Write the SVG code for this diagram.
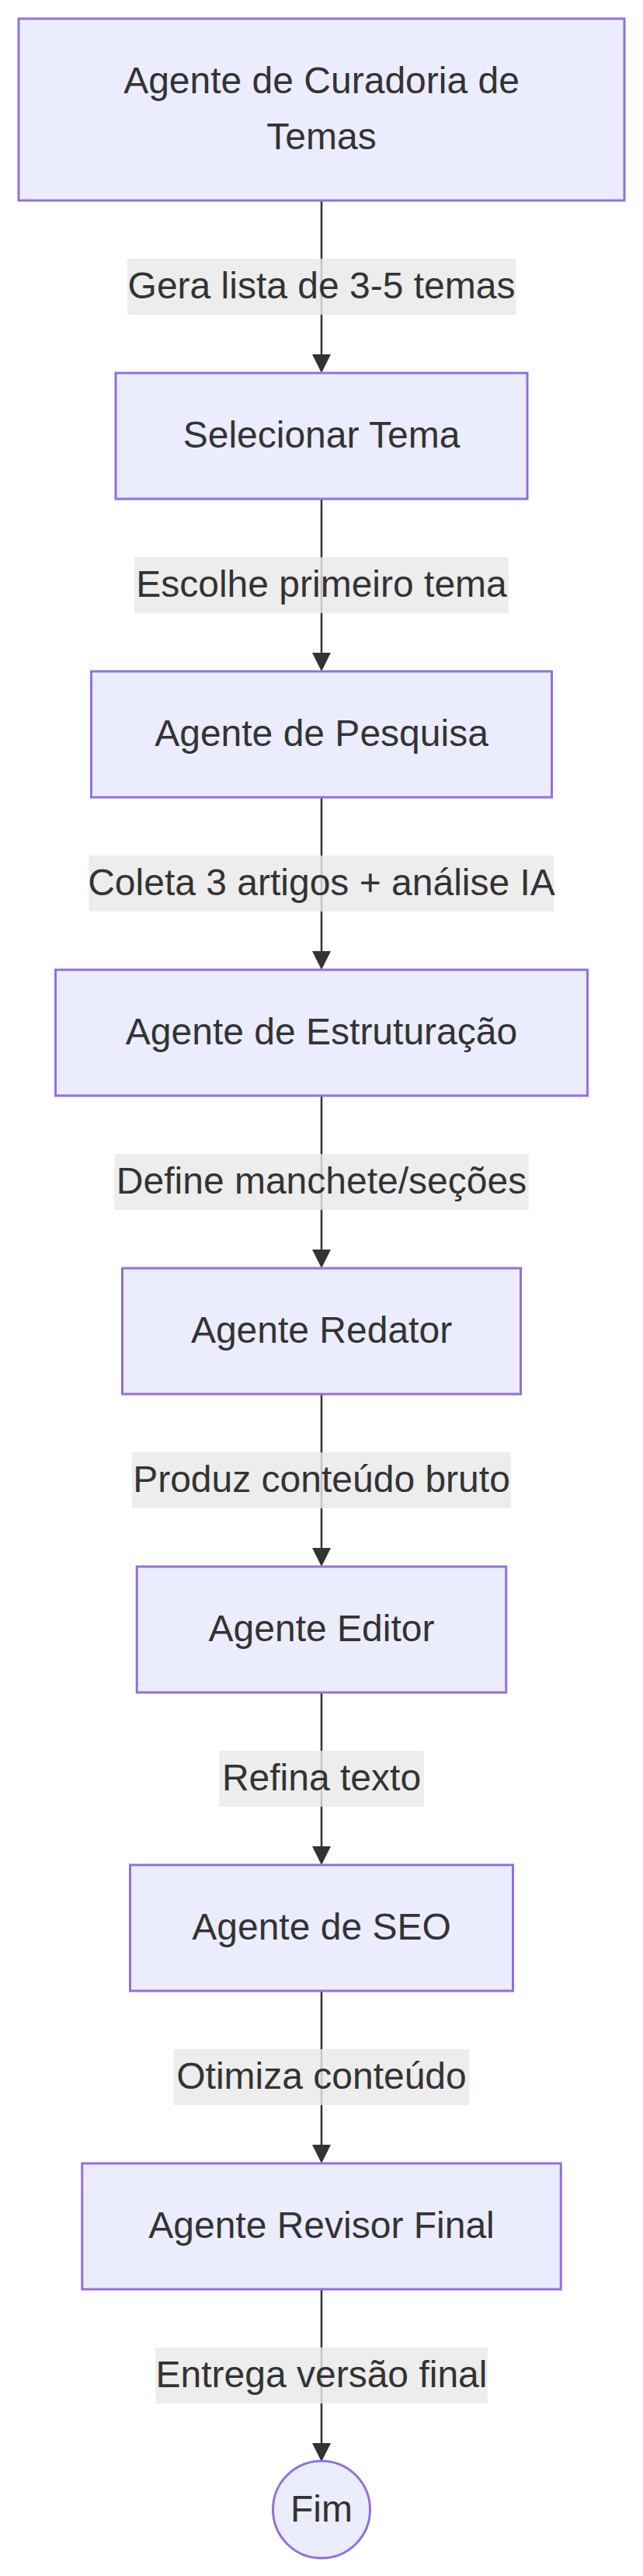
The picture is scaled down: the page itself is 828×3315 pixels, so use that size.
<svg xmlns="http://www.w3.org/2000/svg" width="828" height="3315" viewBox="0 0 828 3315">
<style>
.node rect, .node circle { fill: #ECECFF; stroke: #9370DB; stroke-width: 3; }
.node text { font-family: "Liberation Sans", Arial, sans-serif; font-size: 48px; fill: #333333; text-anchor: middle; }
.edge line { stroke: #333333; stroke-width: 2.5; fill: none; }
.elabel rect { fill: rgba(232,232,232,0.8); stroke: none; }
.elabel text { font-family: "Liberation Sans", Arial, sans-serif; font-size: 48px; fill: #333333; text-anchor: middle; }
</style>
<defs>
<marker id="arrow" viewBox="0 0 10 10" refX="5" refY="5" markerUnits="userSpaceOnUse" markerWidth="24" markerHeight="24" orient="auto">
<path d="M 0 0 L 10 5 L 0 10 z" fill="#333333"/>
</marker>
</defs>
<rect width="828" height="3315" fill="#ffffff"/>
<g id="connectors">
<g class="edge">
<line x1="414" y1="258" x2="414" y2="468" marker-end="url(#arrow)"/>
<line x1="414" y1="642" x2="414" y2="852" marker-end="url(#arrow)"/>
<line x1="414" y1="1026" x2="414" y2="1236" marker-end="url(#arrow)"/>
<line x1="414" y1="1410" x2="414" y2="1620" marker-end="url(#arrow)"/>
<line x1="414" y1="1794" x2="414" y2="2004" marker-end="url(#arrow)"/>
<line x1="414" y1="2178" x2="414" y2="2388" marker-end="url(#arrow)"/>
<line x1="414" y1="2562" x2="414" y2="2772" marker-end="url(#arrow)"/>
<line x1="414" y1="2946" x2="414" y2="3156" marker-end="url(#arrow)"/>
</g>
<g class="elabel">
<rect x="163.75" y="333" width="500.5" height="72"/>
<text x="414" y="384">Gera lista de 3-5 temas</text>
<rect x="173.2" y="717" width="481.6" height="72"/>
<text x="414" y="768">Escolhe primeiro tema</text>
<rect x="114.5" y="1101" width="599" height="72"/>
<text x="414" y="1152">Coleta 3 artigos + análise IA</text>
<rect x="147.3" y="1485" width="533.4" height="72"/>
<text x="414" y="1536">Define manchete/seções</text>
<rect x="169.9" y="1869" width="488.2" height="72"/>
<text x="414" y="1920">Produz conteúdo bruto</text>
<rect x="282.15" y="2253" width="263.7" height="72"/>
<text x="414" y="2304">Refina texto</text>
<rect x="223.5" y="2637" width="381" height="72"/>
<text x="414" y="2688">Otimiza conteúdo</text>
<rect x="200.2" y="3021" width="427.6" height="72"/>
<text x="414" y="3072">Entrega versão final</text>
</g>
</g>
<g id="curadoria" class="node">
<rect x="24" y="24" width="780" height="234"/>
<text x="414" y="120">Agente de Curadoria de</text>
<text x="414" y="192">Temas</text>
</g>
<g id="selecionar" class="node">
<rect x="149" y="480" width="530" height="162"/>
<text x="414" y="576">Selecionar Tema</text>
</g>
<g id="pesquisa" class="node">
<rect x="117.5" y="864" width="593" height="162"/>
<text x="414" y="960">Agente de Pesquisa</text>
</g>
<g id="estruturacao" class="node">
<rect x="71.5" y="1248" width="685" height="162"/>
<text x="414" y="1344">Agente de Estruturação</text>
</g>
<g id="redator" class="node">
<rect x="157.5" y="1632" width="513" height="162"/>
<text x="414" y="1728">Agente Redator</text>
</g>
<g id="editor" class="node">
<rect x="176.25" y="2016" width="475.5" height="162"/>
<text x="414" y="2112">Agente Editor</text>
</g>
<g id="seo" class="node">
<rect x="167.5" y="2400" width="493" height="162"/>
<text x="414" y="2496">Agente de SEO</text>
</g>
<g id="revisor" class="node">
<rect x="105.75" y="2784" width="616.5" height="162"/>
<text x="414" y="2880">Agente Revisor Final</text>
</g>
<g id="fim" class="node">
<circle cx="414" cy="3229.5" r="62.5"/>
<text x="414" y="3244.5">Fim</text>
</g>
</svg>
